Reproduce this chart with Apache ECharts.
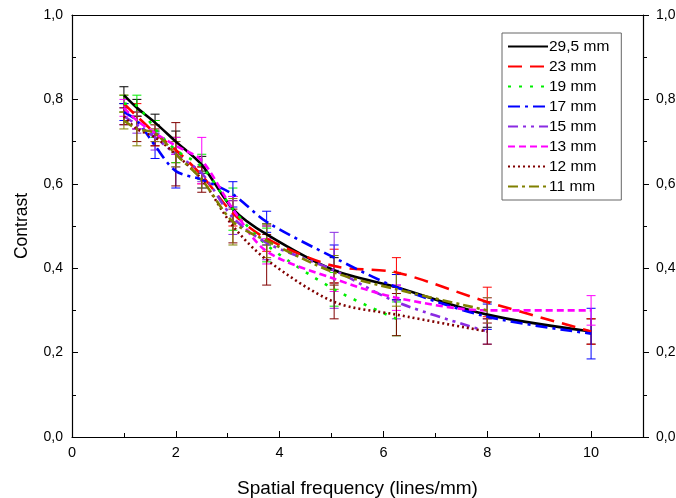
<!DOCTYPE html>
<html><head><meta charset="utf-8">
<script src="https://cdn.jsdelivr.net/npm/echarts@6/dist/echarts.min.js"></script>
<style>html,body{margin:0;padding:0;background:#fff}#c{width:676px;height:498px}</style>
</head><body><div id="c"></div>
<script>
const xFreq = [1, 1.25, 1.6, 2, 2.5, 3.1, 3.75, 5.05, 6.25, 8, 10];
const names = ['29,5 mm','23 mm','19 mm','17 mm','15 mm','13 mm','12 mm','11 mm'];
const v295 = [0.81, 0.78, 0.745, 0.70, 0.645, 0.54, 0.48, 0.395, 0.355, 0.29, 0.25];
const e295 = [0.02, 0.02, 0.02, 0.025, 0.02, 0.03, 0.025, 0.03, 0.03, 0.03, 0.03];
const v23 = [0.79, 0.76, 0.72, 0.68, 0.62, 0.53, 0.47, 0.405, 0.39, 0.32, 0.25];
const e23 = [0.02, 0.03, 0.03, 0.03, 0.02, 0.03, 0.03, 0.04, 0.035, 0.035, 0.03];
const v19 = [0.79, 0.785, 0.73, 0.68, 0.64, 0.54, 0.455, 0.35, 0.28];
const e19 = [0.02, 0.025, 0.02, 0.03, 0.03, 0.05, 0.04, 0.04, 0.04];
const v17 = [0.77, 0.75, 0.69, 0.63, 0.61, 0.575, 0.51, 0.425, 0.355, 0.285, 0.245];
const e17 = [0.02, 0.02, 0.03, 0.04, 0.02, 0.03, 0.025, 0.03, 0.03, 0.03, 0.06];
const v15 = [0.76, 0.74, 0.71, 0.67, 0.625, 0.52, 0.46, 0.395, 0.32, 0.25];
const e15 = [0.02, 0.02, 0.03, 0.03, 0.02, 0.04, 0.04, 0.09, 0.04, 0.03];
const v13 = [0.78, 0.75, 0.72, 0.69, 0.655, 0.54, 0.44, 0.375, 0.33, 0.30, 0.30];
const e13 = [0.02, 0.02, 0.02, 0.02, 0.055, 0.03, 0.03, 0.03, 0.03, 0.03, 0.035];
const v12 = [0.76, 0.73, 0.71, 0.67, 0.61, 0.50, 0.42, 0.32, 0.29, 0.25];
const e12 = [0.02, 0.03, 0.02, 0.075, 0.03, 0.04, 0.06, 0.04, 0.05, 0.03];
const v11 = [0.75, 0.73, 0.72, 0.67, 0.61, 0.51, 0.465, 0.39, 0.35, 0.30];
const e11 = [0.02, 0.04, 0.02, 0.03, 0.02, 0.055, 0.04, 0.04, 0.04, 0.03];

const vals = [v295, v23, v19, v17, v15, v13, v12, v11];
const errs = [e295, e23, e19, e17, e15, e13, e12, e11];
const colors = ['#000000','#ff0000','#00ee00','#0000ff','#8a2be2','#ff00ff','#800000','#808000'];
const dashes = ['solid',[14,8],[3,8],[12,5,3,5],[10,5,3,5,3,5],[7,4],[2,3],[10,4,3,4]];

const fmt = v => v.toFixed(1).replace('.', ',');
const series = [];
names.forEach((n, i) => {
  const d = vals[i].map((v, k) => [xFreq[k], v, errs[i][k]]);
  series.push({
    name: n, type: 'custom', xAxisIndex: 0, yAxisIndex: 0, z: 1,
    data: d,
    renderItem: (params, api) => {
      const x = api.value(0), y = api.value(1), e = api.value(2);
      const top = api.coord([x, y + e]), bot = api.coord([x, y - e]);
      const hw = 4.5;
      const st = {stroke: colors[i], lineWidth: 1, fill: null};
      return {type: 'group', children: [
        {type: 'line', shape: {x1: top[0], y1: top[1], x2: bot[0], y2: bot[1]}, style: st},
        {type: 'line', shape: {x1: top[0]-hw, y1: top[1], x2: top[0]+hw, y2: top[1]}, style: st},
        {type: 'line', shape: {x1: bot[0]-hw, y1: bot[1], x2: bot[0]+hw, y2: bot[1]}, style: st}
      ]};
    }
  });
});
const lineSeries = names.map((n, i) => ({
  name: n, type: 'line', smooth: 0.3, symbol: 'none', z: 3,
  data: vals[i].map((v, k) => [xFreq[k], v]),
  lineStyle: {color: colors[i], width: 2.6, type: dashes[i]},
  itemStyle: {color: colors[i]}
}));

const chart = echarts.init(document.getElementById('c'), null, {renderer: 'canvas'});
const font = 'Liberation Sans, Arial, sans-serif';
chart.setOption({
  animation: false,
  textStyle: {fontFamily: font},
  grid: {left: 72, right: 33, top: 15, bottom: 61, containLabel: false, outerBoundsMode: 'none'},
  legend: {
    orient: 'vertical', left: 502, top: 33, itemWidth: 40, itemHeight: 14, itemGap: 3,
    borderColor: '#666', borderWidth: 1, padding: [5, 12, 5, 5],
    itemStyle: {opacity: 0},
    textStyle: {fontSize: 15.5, lineHeight: 17, color: '#000', fontFamily: font, padding: [0, 0, 0, -4]},
    data: names
  },
  xAxis: [{
    type: 'value', min: 0, max: 11, interval: 2,
    name: 'Spatial frequency (lines/mm)', nameLocation: 'middle', nameGap: 42,
    nameTextStyle: {fontSize: 19, color: '#000'},
    axisLine: {lineStyle: {color: '#000', width: 1.2}},
    axisTick: {inside: true, length: 6, lineStyle: {color: '#000'}},
    minorTick: {show: true, splitNumber: 2, length: 4, lineStyle: {color: '#000'}},
    axisLabel: {fontSize: 14.5, color: '#000', margin: 8, showMaxLabel: false,
      formatter: v => (v > 10.5 ? '' : String(v))},
    splitLine: {show: false}
  }, {
    type: 'value', min: 0, max: 11, position: 'top',
    axisLine: {show: true, onZero: false, lineStyle: {color: '#000', width: 1.2}},
    axisTick: {show: false}, axisLabel: {show: false}, splitLine: {show: false}
  }],
  yAxis: [{
    type: 'value', min: 0, max: 1, interval: 0.2,
    name: 'Contrast', nameLocation: 'middle', nameGap: 41,
    nameTextStyle: {fontSize: 17.5, color: '#000'},
    axisLine: {show: true, lineStyle: {color: '#000', width: 1.2}},
    axisTick: {show: true, inside: true, length: 6, lineStyle: {color: '#000'}},
    minorTick: {show: true, splitNumber: 2, length: 4, lineStyle: {color: '#000'}},
    axisLabel: {fontSize: 14, color: '#000', margin: 9, formatter: fmt},
    splitLine: {show: false}
  }, {
    type: 'value', min: 0, max: 1, interval: 0.2, position: 'right',
    axisLine: {show: true, onZero: false, lineStyle: {color: '#000', width: 1.2}},
    axisTick: {show: true, inside: false, length: 6, lineStyle: {color: '#000'}},
    minorTick: {show: true, splitNumber: 2, length: 4, lineStyle: {color: '#000'}},
    axisLabel: {fontSize: 14, color: '#000', margin: 13, formatter: fmt},
    splitLine: {show: false}
  }],
  series: lineSeries.concat(series)
});
</script></body></html>
